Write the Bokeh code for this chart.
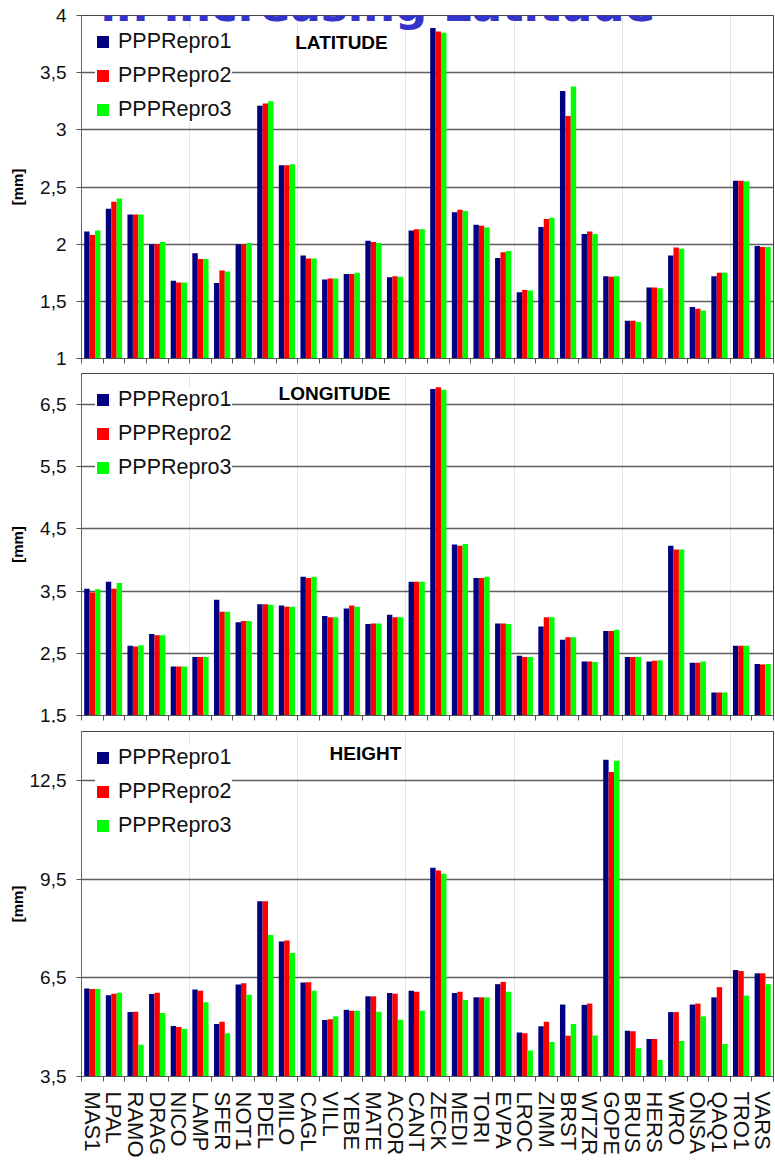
from bokeh.embed import file_html
from bokeh.layouts import column
from bokeh.models import (ColumnDataSource, CustomJSTickFormatter, FixedTicker, Label,
                          Legend, LegendItem, LinearAxis, Range1d)
from bokeh.plotting import figure
from bokeh.resources import INLINE
from bokeh.transform import dodge

# Stations, ordered by increasing latitude
stations = ["MAS1", "LPAL", "RAMO", "DRAG", "NICO", "LAMP", "SFER", "NOT1",
            "PDEL", "MILO", "CAGL", "VILL", "YEBE", "MATE", "ACOR", "CANT",
            "ZECK", "MEDI", "TORI", "EVPA", "LROC", "ZIMM", "BRST", "WTZR",
            "GOPE", "BRUS", "HERS", "WRO", "ONSA", "QAQ1", "TRO1", "VARS"]

series_names = ["PPPRepro1", "PPPRepro2", "PPPRepro3"]

# Repeatability [mm] per component and solution
lat_repro1 = [2.11, 2.31, 2.26, 2.00, 1.68, 1.92, 1.66, 2.00, 3.21, 2.69, 1.90, 1.69,
              1.74, 2.03, 1.71, 2.12, 3.89, 2.28, 2.17, 1.88, 1.58, 2.15, 3.34, 2.09,
              1.72, 1.33, 1.62, 1.90, 1.45, 1.72, 2.555, 1.985]
lat_repro2 = [2.08, 2.37, 2.26, 2.00, 1.665, 1.87, 1.77, 2.00, 3.23, 2.69, 1.875, 1.70,
              1.74, 2.02, 1.72, 2.13, 3.86, 2.30, 2.16, 1.93, 1.60, 2.22, 3.12, 2.11,
              1.715, 1.33, 1.62, 1.97, 1.435, 1.75, 2.555, 1.975]
lat_repro3 = [2.12, 2.40, 2.26, 2.02, 1.665, 1.87, 1.76, 2.01, 3.25, 2.70, 1.875, 1.70,
              1.75, 2.01, 1.715, 2.13, 3.85, 2.29, 2.145, 1.94, 1.595, 2.23, 3.38, 2.09,
              1.72, 1.32, 1.615, 1.96, 1.42, 1.75, 2.55, 1.975]

lon_repro1 = [3.54, 3.65, 2.62, 2.81, 2.29, 2.44, 3.36, 3.00, 3.29, 3.27, 3.73, 3.10,
              3.22, 2.97, 3.12, 3.65, 6.75, 4.25, 3.71, 2.98, 2.46, 2.93, 2.72, 2.37,
              2.86, 2.44, 2.37, 4.23, 2.35, 1.87, 2.62, 2.33]
lon_repro2 = [3.48, 3.54, 2.61, 2.79, 2.29, 2.44, 3.17, 3.02, 3.29, 3.25, 3.71, 3.08,
              3.27, 2.98, 3.08, 3.65, 6.78, 4.23, 3.71, 2.98, 2.44, 3.08, 2.76, 2.37,
              2.86, 2.44, 2.38, 4.17, 2.35, 1.87, 2.62, 2.32]
lon_repro3 = [3.53, 3.63, 2.63, 2.79, 2.29, 2.44, 3.17, 3.02, 3.28, 3.25, 3.73, 3.08,
              3.25, 2.98, 3.08, 3.65, 6.74, 4.26, 3.73, 2.97, 2.44, 3.08, 2.76, 2.36,
              2.88, 2.44, 2.39, 4.17, 2.37, 1.87, 2.62, 2.33]

hgt_repro1 = [6.18, 5.97, 5.46, 6.01, 5.04, 6.15, 5.10, 6.30, 8.83, 7.61, 6.36, 5.22,
              5.53, 5.94, 6.04, 6.11, 9.85, 6.04, 5.91, 6.31, 4.84, 5.03, 5.69, 5.68,
              13.14, 4.89, 4.64, 5.46, 5.69, 5.91, 6.74, 6.64]
hgt_repro2 = [6.16, 6.02, 5.47, 6.05, 5.01, 6.11, 5.17, 6.34, 8.83, 7.64, 6.37, 5.24,
              5.50, 5.94, 6.02, 6.08, 9.77, 6.08, 5.91, 6.38, 4.82, 5.17, 4.74, 5.72,
              12.77, 4.88, 4.64, 5.46, 5.72, 6.22, 6.71, 6.64]
hgt_repro3 = [6.16, 6.05, 4.47, 5.43, 4.95, 5.76, 4.82, 5.99, 7.81, 7.26, 6.11, 5.33,
              5.50, 5.47, 5.23, 5.50, 9.67, 5.83, 5.91, 6.08, 4.29, 4.55, 5.10, 4.75,
              13.11, 4.36, 4.00, 4.58, 5.33, 4.49, 5.96, 6.31]

lat_ticks = [1, 1.5, 2, 2.5, 3, 3.5, 4]
lon_ticks = [1.5, 2.5, 3.5, 4.5, 5.5, 6.5]
hgt_ticks = [3.5, 6.5, 9.5, 12.5]

colors = ["#000080", "#FF0000", "#00FF00"]
FONT = "Liberation Sans"

n = len(stations)
slot_center = [i + 0.5 for i in range(n)]   # one unit-wide slot per station
slot_edges = list(range(n + 1))


def make_panel(name, values, y_lo, y_hi, ticks, height, border_top, border_bottom,
               name_x, name_y, unit_standoff, show_labels=False):
    p = figure(width=775, height=height,
               x_range=Range1d(0, n), y_range=Range1d(y_lo, y_hi),
               output_backend="svg", toolbar_location=None,
               x_axis_location=None, y_axis_location="left",
               min_border_left=81, min_border_right=2,
               min_border_top=border_top, min_border_bottom=border_bottom)
    p.background_fill_color = "white"
    p.border_fill_color = "white"
    p.outline_line_color = "#444444"
    p.outline_line_width = 1

    # value axis with decimal commas
    ticker = FixedTicker(ticks=ticks)
    ax = p.yaxis[0]
    ax.ticker = ticker
    ax.formatter = CustomJSTickFormatter(code="return tick.toString().replace('.', ',')")
    ax.major_label_text_font = FONT
    ax.major_label_text_font_size = "19px"
    ax.major_label_text_color = "#111111"
    ax.major_label_standoff = 10
    ax.major_tick_out = 5
    ax.major_tick_in = 0
    ax.major_tick_line_color = "#555555"
    ax.minor_tick_line_color = None
    ax.axis_line_color = "#666666"
    ax.axis_label = "[mm]"
    ax.axis_label_text_font = FONT
    ax.axis_label_text_font_style = "bold"
    ax.axis_label_text_font_size = "15px"
    ax.axis_label_text_color = "black"
    ax.axis_label_standoff = unit_standoff
    p.ygrid.ticker = ticker
    p.ygrid.grid_line_color = "#5e5e5e"
    p.ygrid.grid_line_width = 1.6

    # tick marks between stations
    edge_axis = LinearAxis(ticker=FixedTicker(ticks=slot_edges),
                           major_label_text_font_size="0px", major_label_standoff=0,
                           major_tick_out=5, major_tick_in=0,
                           major_tick_line_color="#555555",
                           minor_tick_line_color=None, axis_line_color="#555555")
    p.add_layout(edge_axis, "below")

    if show_labels:
        name_axis = LinearAxis(ticker=FixedTicker(ticks=slot_center),
                               formatter=CustomJSTickFormatter(
                                   args=dict(names=stations),
                                   code="return names[Math.round(tick - 0.5)]"),
                               major_tick_line_color=None, minor_tick_line_color=None,
                               axis_line_color=None, major_tick_out=0,
                               major_label_standoff=10,
                               major_label_orientation="vertical",
                               major_label_text_font=FONT,
                               major_label_text_font_size="22px",
                               major_label_text_color="#111111")
        p.add_layout(name_axis, "below")

    src = ColumnDataSource(dict(pos=slot_center, station=stations,
                                r1=values[0], r2=values[1], r3=values[2]))
    renderers = []
    for col, off, color in zip(["r1", "r2", "r3"], [-0.25, 0.0, 0.25], colors):
        r = p.vbar(x=dodge("pos", off), top=col, bottom=0,
                   width=0.25, source=src, fill_color=color, line_color=None)
        renderers.append(r)

    legend = Legend(items=[LegendItem(label=s, renderers=[r])
                           for s, r in zip(series_names, renderers)],
                    location="top_left", margin=14, padding=9,
                    glyph_width=15, glyph_height=15, label_standoff=8,
                    label_height=24, spacing=9,
                    label_text_font=FONT, label_text_font_size="21.5px",
                    label_text_color="#111111",
                    border_line_color=None, background_fill_color="white",
                    background_fill_alpha=1.0)
    p.add_layout(legend)

    p.add_layout(Label(x=name_x, y=name_y, x_units="screen", y_units="screen",
                       text=name, text_font=FONT, text_font_style="bold",
                       text_font_size="19px", text_color="black",
                       text_align="center", text_baseline="middle"))
    return p


p_lat = make_panel("LATITUDE", [lat_repro1, lat_repro2, lat_repro3], 1, 4, lat_ticks,
                   366, 15, 8, 260, 316, 11)
# heading; its baseline sits just below the top edge of the page
p_lat.add_layout(Label(x=19, y=353, x_units="screen", y_units="screen",
                       text="in increasing Latitude", text_font="DejaVu Sans",
                       text_font_style="bold", text_font_size="45px",
                       text_color="#3434CC", text_baseline="alphabetic"))

p_lon = make_panel("LONGITUDE", [lon_repro1, lon_repro2, lon_repro3], 1.5, 7, lon_ticks,
                   357, 7, 8, 253, 322, 11)

p_hgt = make_panel("HEIGHT", [hgt_repro1, hgt_repro2, hgt_repro3], 3.5, 14, hgt_ticks,
                   437, 8, 79, 284, 323, 1, show_labels=True)

layout = column(p_lat, p_lon, p_hgt, spacing=0)

with open("out.html", "w") as f:
    f.write(file_html(layout, INLINE))
